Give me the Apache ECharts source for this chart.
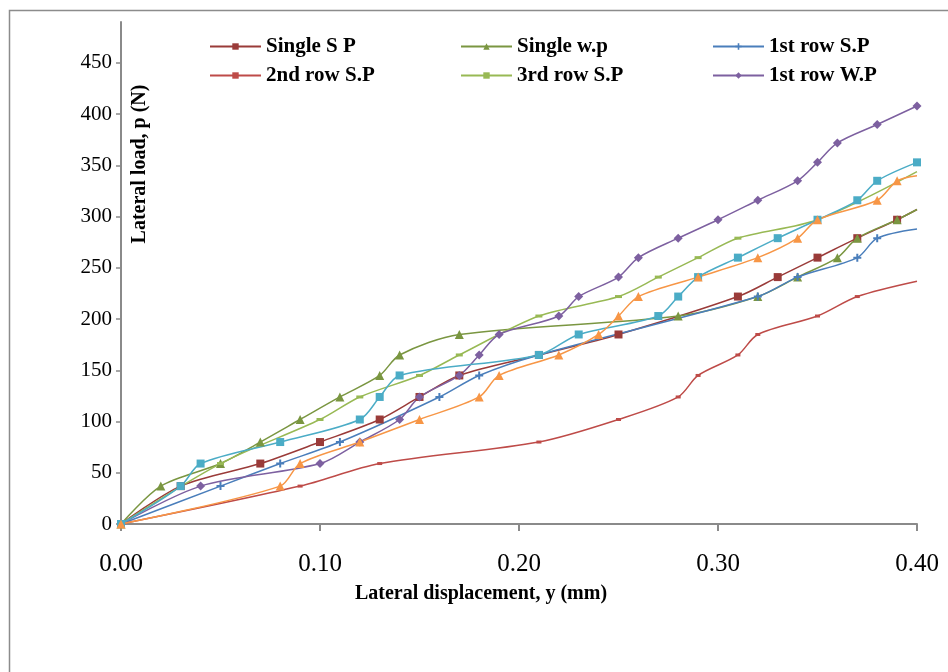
<!DOCTYPE html>
<html>
<head>
<meta charset="utf-8">
<script src="https://cdn.jsdelivr.net/npm/echarts@6/dist/echarts.min.js"></script>
<style>
  html, body { margin: 0; padding: 0; background: #fff; }
  #chart { width: 948px; height: 672px; }
</style>
</head>
<body>
<div id="chart"></div>
<script>
// Lateral load (N) against lateral displacement (mm), pairs of [y (mm), p (N)]
const singleSP = [[0,0],[0.03,37],[0.07,59],[0.10,80],[0.13,102],[0.15,124],[0.17,145],[0.21,165],[0.25,185],[0.31,222],[0.33,241],[0.35,260],[0.37,279],[0.39,297],[0.40,307]];
const singleWP = [[0,0],[0.02,37],[0.05,59],[0.07,80],[0.09,102],[0.11,124],[0.13,145],[0.14,165],[0.17,185],[0.28,203],[0.32,222],[0.34,241],[0.36,260],[0.37,279],[0.39,297],[0.40,307]];
const row1SP   = [[0,0],[0.05,37],[0.08,59],[0.11,80],[0.16,124],[0.18,145],[0.21,165],[0.32,222],[0.34,241],[0.37,260],[0.38,279],[0.40,288]];
const row2SP   = [[0,0],[0.09,37],[0.13,59],[0.21,80],[0.25,102],[0.28,124],[0.29,145],[0.31,165],[0.32,185],[0.35,203],[0.37,222],[0.40,237]];
const row3SP   = [[0,0],[0.05,59],[0.10,102],[0.12,124],[0.15,145],[0.17,165],[0.21,203],[0.25,222],[0.27,241],[0.29,260],[0.31,279],[0.35,297],[0.40,344]];
const row1WP   = [[0,0],[0.04,37],[0.10,59],[0.12,80],[0.14,102],[0.15,124],[0.17,145],[0.18,165],[0.19,185],[0.22,203],[0.23,222],[0.25,241],[0.26,260],[0.28,279],[0.30,297],[0.32,316],[0.34,335],[0.35,353],[0.36,372],[0.38,390],[0.40,408]];
const series7  = [[0,0],[0.03,37],[0.04,59],[0.08,80],[0.12,102],[0.13,124],[0.14,145],[0.21,165],[0.23,185],[0.27,203],[0.28,222],[0.29,241],[0.31,260],[0.33,279],[0.35,297],[0.37,316],[0.38,335],[0.40,353]];
const series8  = [[0,0],[0.08,37],[0.09,59],[0.12,80],[0.15,102],[0.18,124],[0.19,145],[0.22,165],[0.24,185],[0.25,203],[0.26,222],[0.29,241],[0.32,260],[0.34,279],[0.35,297],[0.38,316],[0.39,335],[0.40,340]];

// Axis ticks
const xTicks = [0, 0.1, 0.2, 0.3, 0.4];
const yTicks = [0, 50, 100, 150, 200, 250, 300, 350, 400, 450];

// Legend columns
const legendCols = [
  ['Single S P', '2nd row S.P'],
  ['Single w.p', '3rd row S.P'],
  ['1st row S.P', '1st row W.P']
];

const SERIF = '"Liberation Serif", "Times New Roman", serif';
const PLUS = 'path://M3,0H5V3H8V5H5V8H3V5H0V3H3Z';

// name, data, colour, symbol, symbol size, whether the final point at the axis edge is unmarked
const defs = [
  ['Single S P',  singleSP, '#9A3B39', 'rect',     8,     true],
  ['Single w.p',  singleWP, '#7A9641', 'triangle', 9,     true],
  ['1st row S.P', row1SP,   '#4A7EBB', PLUS,       8,     true],
  ['2nd row S.P', row2SP,   '#BE4B48', 'rect',     [5,3], true],
  ['3rd row S.P', row3SP,   '#98B954', 'rect',     [7,3], true],
  ['1st row W.P', row1WP,   '#7D60A0', 'diamond',  9,     false],
  ['Series 7',    series7,  '#4BACC6', 'rect',     8,     false],
  ['Series 8',    series8,  '#F79646', 'triangle', 9,     true]
];

const series = defs.map(([name, data, color, symbol, size, bareEnd]) => ({
  name: name,
  type: 'line',
  smooth: 0.3,
  symbol: symbol,
  symbolSize: size,
  showAllSymbol: true,
  color: color,
  lineStyle: { color: color, width: 1.5 },
  itemStyle: { color: color },
  emphasis: { disabled: true },
  data: data.map((p, i) => (bareEnd && i === data.length - 1) ? { value: p, symbol: 'none' } : p)
}));

const legends = legendCols.map((names, i) => ({
  data: names,
  orient: 'vertical',
  left: [209, 460, 712][i],
  top: 36,
  padding: 0,
  itemWidth: 51,
  itemHeight: 8,
  itemGap: 8,
  selectedMode: false,
  textStyle: { fontFamily: SERIF, fontWeight: 'bold', fontSize: 21, color: '#000' }
}));

const chart = echarts.init(document.getElementById('chart'), null, { renderer: 'canvas' });
chart.setOption({
  animation: false,
  backgroundColor: '#fff',
  grid: { left: 121, right: 31, top: 22, bottom: 148, containLabel: false },
  legend: legends,
  xAxis: {
    type: 'value',
    min: 0,
    max: 0.4,
    interval: 0.1,
    axisLine: { show: true, lineStyle: { color: '#8a8a8a', width: 2 } },
    axisTick: { show: true, length: 7, lineStyle: { color: '#8a8a8a', width: 2 }, customValues: xTicks },
    axisLabel: {
      customValues: xTicks,
      margin: 28,
      fontFamily: SERIF, fontSize: 25, color: '#000',
      formatter: v => v.toFixed(2)
    },
    splitLine: { show: false }
  },
  yAxis: {
    type: 'value',
    min: 0,
    max: 490,
    interval: 50,
    axisLine: { show: true, lineStyle: { color: '#8a8a8a', width: 2 } },
    axisTick: { show: true, length: 5, lineStyle: { color: '#8a8a8a', width: 1.5 }, customValues: yTicks },
    axisLabel: {
      customValues: yTicks,
      margin: 9,
      fontFamily: SERIF, fontSize: 21, color: '#000'
    },
    splitLine: { show: false }
  },
  graphic: [
    {
      type: 'rect',
      shape: { x: 9.5, y: 10.5, width: 1200, height: 1200 },
      style: { fill: 'none', stroke: '#8c8c8c', lineWidth: 1.5 },
      silent: true,
      z: -1
    },
    {
      type: 'text',
      x: 140,
      y: 164,
      rotation: Math.PI / 2,
      style: {
        text: 'Lateral load, p (N)',
        fontFamily: SERIF, fontWeight: 'bold', fontSize: 20, fill: '#000',
        align: 'center', verticalAlign: 'middle'
      }
    },
    {
      type: 'text',
      x: 481,
      y: 594,
      style: {
        text: 'Lateral displacement, y (mm)',
        fontFamily: SERIF, fontWeight: 'bold', fontSize: 20, fill: '#000',
        align: 'center', verticalAlign: 'middle'
      }
    }
  ],
  series: series
});
</script>
</body>
</html>
